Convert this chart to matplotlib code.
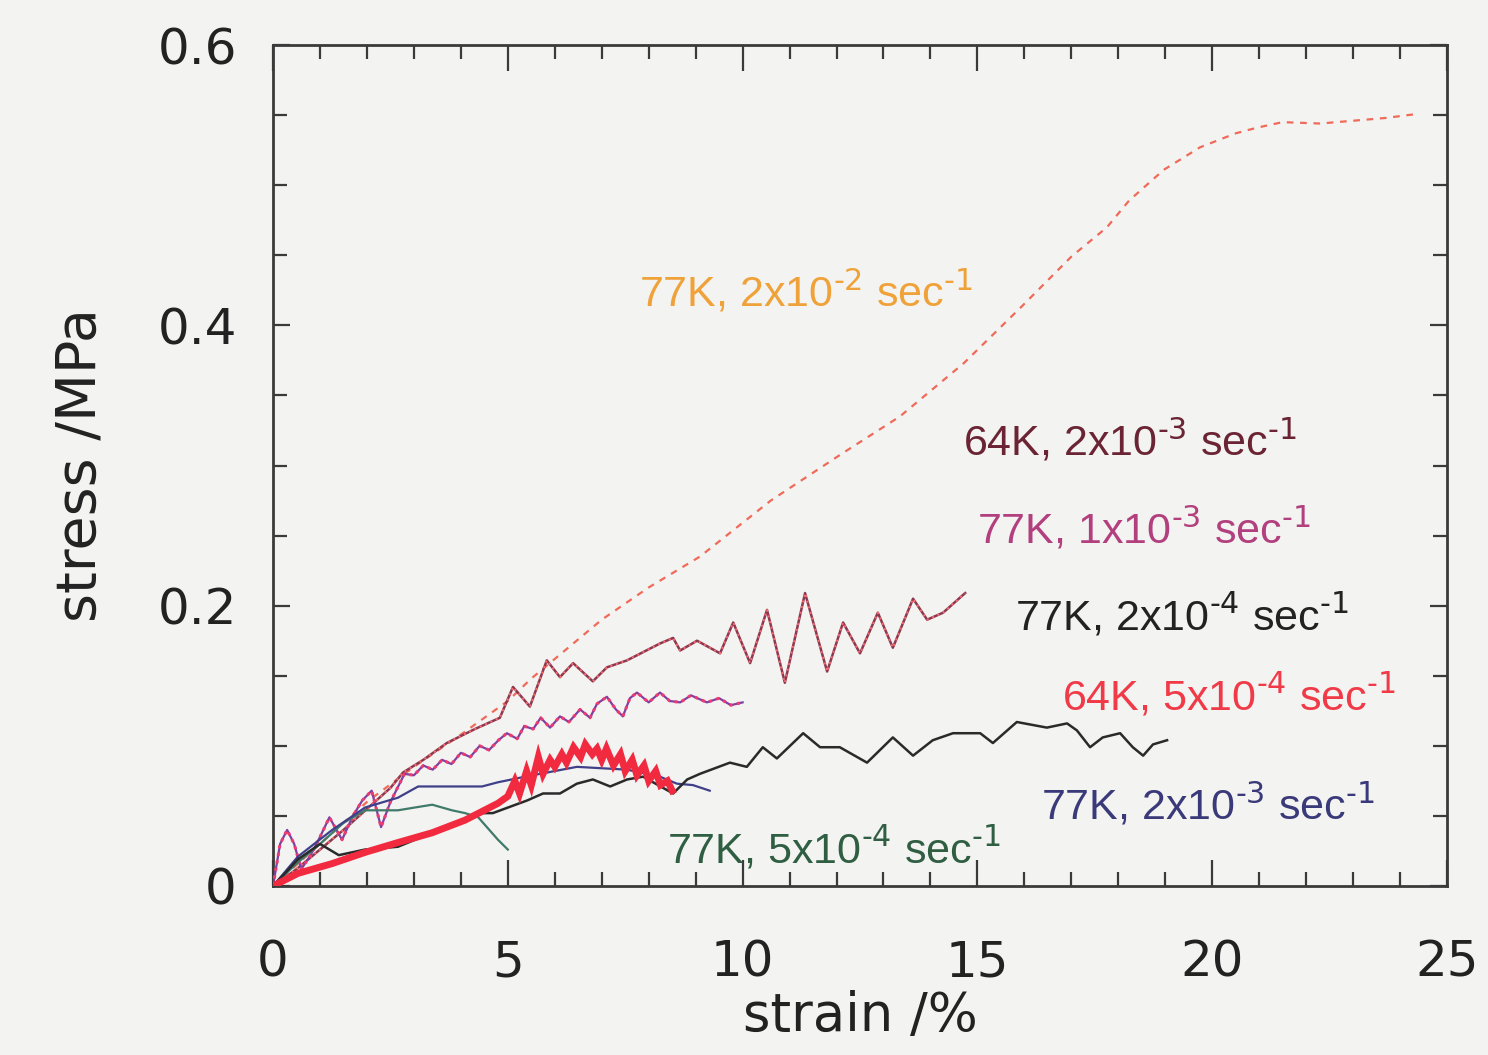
import matplotlib
matplotlib.use("Agg")
import matplotlib.pyplot as plt
from matplotlib.ticker import MultipleLocator

plt.rcParams['mathtext.default'] = 'regular'

# ---- data: strain (%) and stress (MPa) for each run ----
strain_77K_2e2 = [0, 1, 2, 3, 4, 5, 5.5, 6, 7, 8, 9.09, 10.6, 12.14, 13.35, 14.71,
                  15.93, 17.0, 17.76, 18.23, 18.97, 19.74, 20.5, 20.95, 21.5, 22.3,
                  23.0, 23.7, 24.4]
stress_77K_2e2 = [0, 0.03, 0.06, 0.085, 0.108, 0.132, 0.148, 0.162, 0.19, 0.213, 0.235,
                  0.275, 0.309, 0.335, 0.373, 0.413, 0.449, 0.47, 0.489, 0.511, 0.527,
                  0.537, 0.541, 0.545, 0.544, 0.546, 0.548, 0.551]

strain_64K_2e3 = [0, 0.5, 1.0, 1.5, 2.0, 2.5, 2.77, 3.2, 3.7, 4.3, 4.83, 5.11, 5.47, 5.83,
                  6.11, 6.39, 6.81, 7.11, 7.54, 8.24, 8.52, 8.67, 9.03, 9.52, 9.80,
                  10.16, 10.52, 10.90, 11.33, 11.80, 12.14, 12.50, 12.88, 13.20, 13.63,
                  13.93, 14.27, 14.74]
stress_64K_2e3 = [0, 0.012, 0.026, 0.04, 0.055, 0.07, 0.081, 0.09, 0.102, 0.112, 0.120,
                  0.142, 0.128, 0.161, 0.149, 0.159, 0.146, 0.156, 0.161, 0.173, 0.177,
                  0.168, 0.175, 0.166, 0.188, 0.159, 0.197, 0.145, 0.209, 0.153, 0.188,
                  0.166, 0.195, 0.170, 0.205, 0.190, 0.195, 0.209]

strain_77K_1e3 = [0, 0.15, 0.3, 0.45, 0.6, 0.8, 1.0, 1.2, 1.47, 1.7, 1.9, 2.1, 2.3, 2.5,
                  2.8, 3.0, 3.2, 3.4, 3.6, 3.8, 4.0, 4.2, 4.4, 4.6, 4.8, 4.98, 5.2,
                  5.35, 5.54, 5.7, 5.9, 6.11, 6.3, 6.54, 6.75, 6.9, 7.11, 7.3, 7.45,
                  7.6, 7.75, 8.0, 8.24, 8.45, 8.67, 8.9, 9.24, 9.5, 9.75, 10.0]
stress_77K_1e3 = [0, 0.03, 0.04, 0.03, 0.012, 0.022, 0.035, 0.049, 0.033, 0.05, 0.061,
                  0.068, 0.042, 0.06, 0.08, 0.079, 0.086, 0.083, 0.09, 0.087, 0.095,
                  0.092, 0.1, 0.097, 0.104, 0.109, 0.105, 0.114, 0.112, 0.12, 0.113,
                  0.121, 0.117, 0.126, 0.12, 0.13, 0.135, 0.126, 0.121, 0.134, 0.138,
                  0.131, 0.138, 0.132, 0.131, 0.136, 0.131, 0.134, 0.129, 0.131]

strain_77K_2e4 = [0, 0.53, 1.0, 1.4, 1.96, 2.66, 3.39, 4.09, 4.37, 4.68, 5.41, 5.75, 6.11,
                  6.47, 6.81, 7.18, 7.54, 7.88, 8.52, 8.82, 9.09, 9.73, 10.09, 10.43,
                  10.73, 11.29, 11.65, 12.07, 12.65, 13.2, 13.63, 14.05, 14.48, 15.06,
                  15.33, 15.84, 16.48, 16.91, 17.12, 17.4, 17.67, 18.04, 18.31, 18.53,
                  18.74, 19.04]
stress_77K_2e4 = [0, 0.019, 0.03, 0.022, 0.026, 0.028, 0.038, 0.047, 0.052, 0.052, 0.061,
                  0.066, 0.066, 0.073, 0.076, 0.071, 0.076, 0.078, 0.066, 0.076, 0.080,
                  0.088, 0.085, 0.099, 0.091, 0.109, 0.099, 0.099, 0.088, 0.106, 0.093,
                  0.104, 0.109, 0.109, 0.102, 0.117, 0.113, 0.116, 0.111, 0.099, 0.106,
                  0.109, 0.099, 0.093, 0.101, 0.104]

strain_77K_2e3 = [0, 0.53, 1.26, 1.96, 2.66, 3.09, 3.73, 4.45, 4.79, 5.37, 6.47, 7.54,
                  8.24, 8.6, 8.94, 9.3]
stress_77K_2e3 = [0, 0.021, 0.04, 0.056, 0.063, 0.071, 0.071, 0.071, 0.074, 0.078, 0.085,
                  0.083, 0.078, 0.073, 0.072, 0.068]

strain_77K_5e4 = [0, 0.5, 1.0, 1.5, 1.96, 2.66, 3.02, 3.39, 3.81, 4.09, 4.37, 4.79, 5.0]
stress_77K_5e4 = [0, 0.016, 0.03, 0.045, 0.054, 0.054, 0.056, 0.058, 0.054, 0.052, 0.049,
                  0.033, 0.026]

strain_64K_5e4 = [0, 0.53, 1.26, 1.96, 2.66, 3.39, 4.09, 4.79, 5.0, 5.15, 5.25, 5.4, 5.5,
                  5.65, 5.75, 5.9, 6.0, 6.15, 6.25, 6.4, 6.55, 6.65, 6.8, 6.9, 7.0, 7.1,
                  7.25, 7.4, 7.5, 7.65, 7.75, 7.9, 8.0, 8.15, 8.25, 8.4, 8.5]
stress_64K_5e4 = [0, 0.009, 0.016, 0.024, 0.031, 0.038, 0.047, 0.059, 0.064, 0.075, 0.066,
                  0.082, 0.072, 0.092, 0.080, 0.090, 0.085, 0.094, 0.088, 0.099, 0.092,
                  0.101, 0.094, 0.098, 0.090, 0.098, 0.086, 0.094, 0.082, 0.090, 0.079,
                  0.086, 0.075, 0.082, 0.072, 0.075, 0.068]

# label text, position (strain, stress) and colour
labels = [
    (r'77K, 2x10$^{\text{-2}}$ sec$^{\text{-1}}$', 7.8, 0.424, '#f0a23a'),
    (r'64K, 2x10$^{\text{-3}}$ sec$^{\text{-1}}$', 14.7, 0.318, '#6a2434'),
    (r'77K, 1x10$^{\text{-3}}$ sec$^{\text{-1}}$', 15.0, 0.255, '#b2407e'),
    (r'77K, 2x10$^{\text{-4}}$ sec$^{\text{-1}}$', 15.8, 0.193, '#222222'),
    (r'64K, 5x10$^{\text{-4}}$ sec$^{\text{-1}}$', 16.8, 0.136, '#f03a48'),
    (r'77K, 2x10$^{\text{-3}}$ sec$^{\text{-1}}$', 16.35, 0.058, '#3a3a7a'),
    (r'77K, 5x10$^{\text{-4}}$ sec$^{\text{-1}}$', 8.4, 0.027, '#2f5e42'),
]

bg = '#f3f3f1'
fig = plt.figure(figsize=(14.88, 10.55), dpi=100, facecolor=bg)
ax = fig.add_axes([0.1835, 0.1602, 0.7889, 0.7971], facecolor=bg)

# curves
ax.plot(strain_77K_2e2, stress_77K_2e2, color='#f06a5a', lw=1.6,
        linestyle=(0, (3, 3)), zorder=2)
ax.plot(strain_64K_2e3, stress_64K_2e3, color='#8a3a50', lw=1.8, zorder=3)
ax.plot(strain_64K_2e3, stress_64K_2e3, color='#ff6a70', lw=1.4,
        linestyle=(0, (1, 2)), zorder=3)
ax.plot(strain_77K_1e3, stress_77K_1e3, color='#8040a0', lw=1.6, zorder=3)
ax.plot(strain_77K_1e3, stress_77K_1e3, color='#f03a70', lw=2.2,
        linestyle=(0, (1, 1.5)), zorder=3)
ax.plot(strain_77K_5e4, stress_77K_5e4, color='#3f7a6a', lw=1.6, zorder=3)
ax.plot(strain_77K_2e3, stress_77K_2e3, color='#40408a', lw=1.6, zorder=3)
ax.plot(strain_77K_2e4, stress_77K_2e4, color='#2a2a2a', lw=1.8, zorder=4)
ax.plot(strain_64K_5e4, stress_64K_5e4, color='#f22a40', lw=5.0, zorder=5,
        solid_joinstyle='miter')

for text, x, y, c in labels:
    ax.text(x, y, text, color=c, fontsize=31, family='Liberation Sans',
            va='center', ha='left', zorder=6)

ax.set_xlim(0, 25)
ax.set_ylim(0, 0.6)
ax.xaxis.set_major_locator(MultipleLocator(5))
ax.xaxis.set_minor_locator(MultipleLocator(1))
ax.yaxis.set_major_locator(MultipleLocator(0.2))
ax.yaxis.set_minor_locator(MultipleLocator(0.05))
ax.xaxis.set_major_formatter(plt.FuncFormatter(lambda v, p: f'{v:g}'))
ax.yaxis.set_major_formatter(plt.FuncFormatter(lambda v, p: f'{v:g}'))

ax.tick_params(which='both', direction='in', top=True, right=True,
               color='#3a3a3a', width=1.6)
ax.tick_params(axis='x', which='major', length=19, pad=38,
               labelsize=36, labelcolor='#222222')
ax.tick_params(axis='x', which='minor', length=10)
ax.tick_params(axis='y', which='major', length=12, pad=26,
               labelsize=36, labelcolor='#222222')
ax.tick_params(axis='y', which='minor', length=10)
for lab in ax.get_xticklabels() + ax.get_yticklabels():
    lab.set_family('DejaVu Sans')

for s in ax.spines.values():
    s.set_color('#3a3a3a')
    s.set_linewidth(2)

ax.set_xlabel('strain /%', fontsize=38, family='DejaVu Sans',
              color='#222222', labelpad=2)
ax.set_ylabel('stress /MPa', fontsize=40, family='DejaVu Sans',
              color='#222222', labelpad=36)

fig.savefig('out.png', dpi=100, facecolor=bg)
